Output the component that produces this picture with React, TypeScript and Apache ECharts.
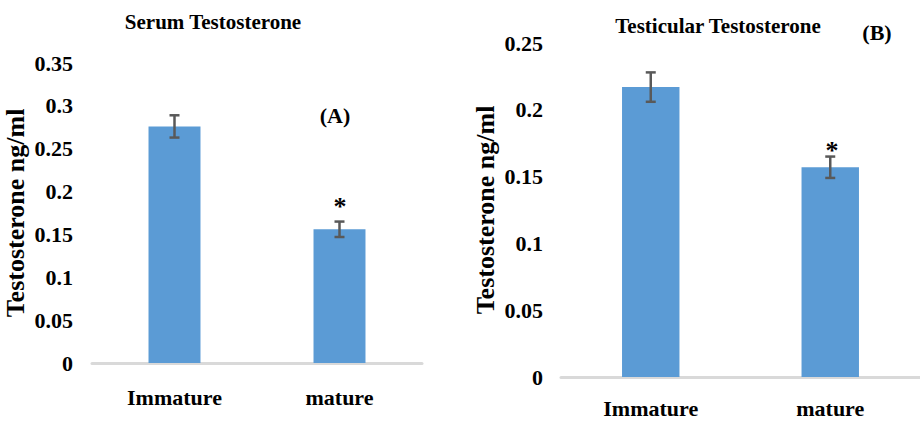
import React, { useEffect, useRef } from "react";
import * as echarts from "echarts";

const categories = ["Immature", "mature"];
const serumValues = [0.276, 0.156];
const serumErrors = [0.013, 0.009];
const testicularValues = [0.217, 0.157];
const testicularErrors = [0.011, 0.008];
const serumAxisMax = 0.35;
const testicularAxisMax = 0.25;
const tickStep = 0.05;
const serumTitle = "Serum Testosterone";
const testicularTitle = "Testicular Testosterone";
const yAxisName = "Testosterone ng/ml";

const FONT = "Liberation Serif";
const BAR_COLOR = "#5b9bd5";
const ERR_COLOR = "#595959";

function errorSeries(values: number[], errors: number[], axisIndex: number) {
  return {
    type: "custom",
    xAxisIndex: axisIndex,
    yAxisIndex: axisIndex,
    silent: true,
    z: 5,
    encode: { x: 0, y: [1, 2] },
    data: values.map((v, i) => [i, v - errors[i], v + errors[i]]),
    renderItem: (params: any, api: any) => {
      const x = api.value(0);
      const lo = api.coord([x, api.value(1)]);
      const hi = api.coord([x, api.value(2)]);
      const hw = 5;
      const style = { stroke: ERR_COLOR, lineWidth: 2.5 };
      return {
        type: "group",
        children: [
          { type: "line", shape: { x1: hi[0], y1: hi[1], x2: lo[0], y2: lo[1] }, style },
          { type: "line", shape: { x1: hi[0] - hw, y1: hi[1], x2: hi[0] + hw, y2: hi[1] }, style },
          { type: "line", shape: { x1: lo[0] - hw, y1: lo[1], x2: lo[0] + hw, y2: lo[1] }, style },
        ],
      };
    },
  };
}

const labelStyle = {
  fontFamily: FONT,
  fontWeight: "bold" as const,
  color: "#000",
};

const richLabel = {
  t: { fontFamily: FONT, fontWeight: "bold", fontSize: 22, color: "#000" },
};

function xAxis(gridIndex: number, margin: number) {
  return {
    type: "category",
    gridIndex,
    data: categories,
    axisTick: { show: false },
    axisLine: { show: true, lineStyle: { color: "#d9d9d9", width: 3 } },
    axisLabel: {
      ...labelStyle,
      fontSize: 22,
      margin,
      formatter: (v: string) => `{t|${v}}`,
      rich: richLabel,
    },
  };
}

function yAxis(gridIndex: number, max: number, margin: number, nameGap: number) {
  return {
    type: "value",
    gridIndex,
    min: 0,
    max,
    interval: tickStep,
    name: yAxisName,
    nameLocation: "middle",
    nameRotate: 90,
    nameGap,
    nameTextStyle: { ...labelStyle, fontSize: 26 },
    axisLine: { show: false },
    axisTick: { show: false },
    splitLine: { show: false },
    axisLabel: {
      ...labelStyle,
      fontSize: 22,
      margin,
      formatter: (v: number) => `{t|${v}}`,
      rich: richLabel,
    },
  };
}

function textEl(text: string, x: number, y: number, fontSize: number) {
  return {
    type: "text",
    x,
    y,
    style: {
      text,
      fontFamily: FONT,
      fontWeight: "bold",
      fontSize,
      fill: "#000",
      textAlign: "center",
      textVerticalAlign: "middle",
    },
  };
}

export default function App() {
  const ref = useRef<HTMLDivElement>(null);
  useEffect(() => {
    if (!ref.current) return;
    const chart = echarts.init(ref.current, undefined, { renderer: "svg" });
    chart.setOption({
      animation: false,
      backgroundColor: "#fff",
      textStyle: { fontFamily: FONT, fontWeight: "bold" },
      grid: [
        { left: 92, top: 63, width: 330, height: 300 },
        { left: 561, top: 43, width: 359, height: 334 },
      ],
      xAxis: [xAxis(0, 23), xAxis(1, 20)],
      yAxis: [yAxis(0, serumAxisMax, 19, 64), yAxis(1, testicularAxisMax, 18, 63)],
      series: [
        {
          type: "bar",
          xAxisIndex: 0,
          yAxisIndex: 0,
          data: serumValues,
          barWidth: "31.5%",
          itemStyle: { color: BAR_COLOR },
        },
        errorSeries(serumValues, serumErrors, 0),
        {
          type: "bar",
          xAxisIndex: 1,
          yAxisIndex: 1,
          data: testicularValues,
          barWidth: "32%",
          itemStyle: { color: BAR_COLOR },
        },
        errorSeries(testicularValues, testicularErrors, 1),
      ],
      graphic: [
        textEl(serumTitle, 213, 22, 21),
        textEl(testicularTitle, 718, 26, 21),
        textEl("(A)", 335, 115, 22),
        textEl("(B)", 877, 32, 22),
        textEl("*", 340, 206, 26),
        textEl("*", 832, 150, 26),
      ],
    });
    return () => chart.dispose();
  }, []);
  return (
    <div
      ref={ref}
      style={{ position: "absolute", left: 0, top: 0, width: 920, height: 425, background: "#fff" }}
    />
  );
}
